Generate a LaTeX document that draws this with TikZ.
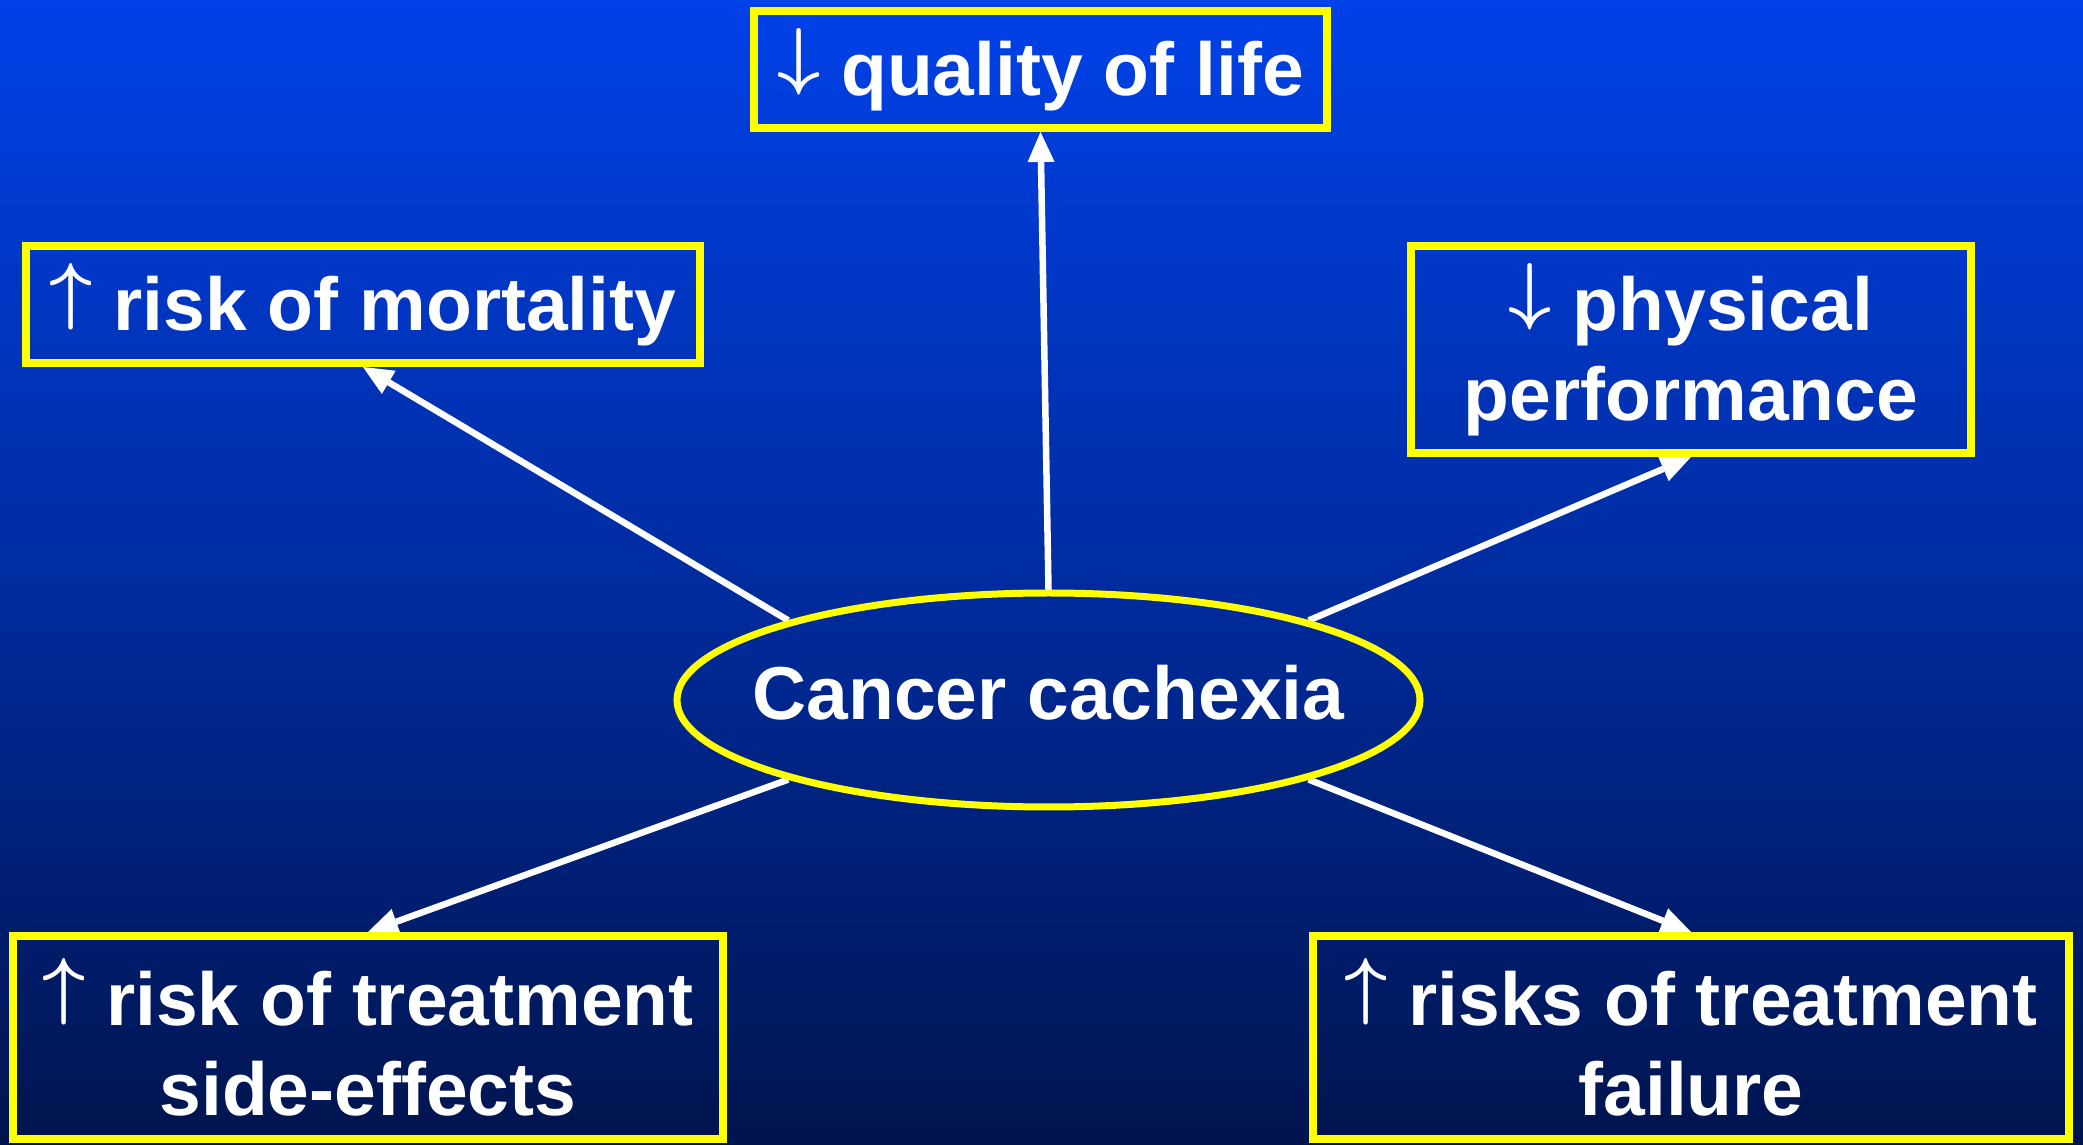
\RequirePackage{fix-cm}
\documentclass[tikz,border=0pt]{standalone}
\usepackage{fontspec}
\setmainfont{Liberation Sans}
\usetikzlibrary{arrows.meta,shapes.geometric}
\definecolor{bgtop}{RGB}{0,65,232}
\definecolor{bgmid}{RGB}{0,44,160}
\definecolor{bgbot}{RGB}{0,20,78}
\definecolor{boxyellow}{RGB}{255,255,0}
\newcommand{\upar}{\raisebox{0.194em}{\boldmath$\uparrow$}}
\newcommand{\dnar}{\raisebox{0.194em}{\boldmath$\downarrow$}}
\pgfdeclarelayer{shadelayer}
\pgfdeclarelayer{arrowlayer}
\pgfsetlayers{shadelayer,arrowlayer,main}
\begin{document}
\begin{tikzpicture}[x=1pt,y=1pt,
  box/.style={draw=boxyellow, line width=8pt, inner sep=0pt, text=white,
    font=\bfseries\fontsize{75}{90}\selectfont, align=center},
  txt/.style={inner sep=0pt, text=white, font=\bfseries\fontsize{75}{90}\selectfont, align=center},
  arr/.style={draw=white, line width=6.5pt,
    -{Triangle[length=30pt,width=27pt,line width=0pt]}}]
\begin{pgfonlayer}{shadelayer}
\shade[top color=bgtop, bottom color=bgbot, middle color=bgmid] (0,0) rectangle (2083,1144);
\end{pgfonlayer}
\useasboundingbox (0,0) rectangle (2083,1144);

\node[draw=boxyellow, line width=7pt, ellipse, inner sep=0pt, minimum width=743pt, minimum height=214pt] (cc) at (1048.5,444) {};
\node[txt, text depth=16pt] (cct) at (cc.center) {Cancer cachexia};

\node[box, minimum width=573pt, minimum height=117pt] (q) at (1040.5,1074.5) {\dnar{} quality of life};
\node[box, minimum width=674pt, minimum height=117pt] (m) at (363,839.5) {\upar{} risk of mortality};
\node[box, minimum width=560pt, minimum height=207pt] (p) at (1691,794.5) {\dnar{} physical\\performance};
\node[box, minimum width=710.5pt, minimum height=203pt] (s) at (368,106.5) {\upar{} risk of treatment\\side-effects};
\node[box, minimum width=756pt, minimum height=203pt] (f) at (1691,106.5) {\upar{} risks of treatment\\failure};

\begin{pgfonlayer}{arrowlayer}
\draw[arr, shorten <=-3.5pt] (cc.north) -- (q.south);
\draw[arr] (cc.163) -- (m.south);
\draw[arr] (cc.17) -- (p.south);
\draw[arr] (cc.197) -- (s.north);
\draw[arr] (cc.343) -- (f.north);
\end{pgfonlayer}
\end{tikzpicture}
\end{document}
